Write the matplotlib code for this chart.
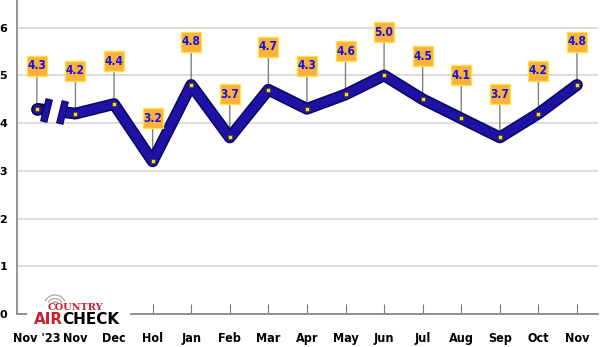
import numpy as np
import matplotlib.pyplot as plt
import matplotlib.patheffects as pe
from matplotlib.path import Path
from matplotlib.transforms import Affine2D, offset_copy
from matplotlib.patches import Arc, Rectangle

# dati del grafico
mesi = ["Nov '23", "Nov", "Dec", "Hol", "Jan", "Feb", "Mar", "Apr",
        "May", "Jun", "Jul", "Aug", "Sep", "Oct", "Nov"]
valori = [4.3, 4.2, 4.4, 3.2, 4.8, 3.7, 4.7, 4.3, 4.6, 5.0, 4.5, 4.1, 3.7, 4.2, 4.8]
ytick = [0, 1, 2, 3, 4, 5, 6]

x = np.arange(len(mesi))
blu = '#1f11a3'
blu_scuro = '#0b0560'

fig = plt.figure(figsize=(6.0, 3.47), dpi=100)
ax = fig.add_axes([0.028, 0.095, 0.969, 0.905])
ax.set_xlim(-0.52, len(mesi) - 0.45)
ax.set_ylim(0, 6.58)

# griglia
ax.set_yticks(ytick)
ax.yaxis.grid(True, color='#d9d9d9', lw=1.3)
ax.set_axisbelow(True)
for s in ['top', 'right']:
    ax.spines[s].set_visible(False)
for s in ['left', 'bottom']:
    ax.spines[s].set_color('#8a8a8a')
    ax.spines[s].set_linewidth(1.3)

ax.set_xticks(x)
ax.set_xticklabels(mesi, fontsize=9, fontweight='bold', fontstretch='condensed')
ax.set_yticklabels([str(t) for t in ytick], fontsize=8, fontweight='bold')
ax.tick_params(axis='x', direction='in', length=7, color='#777777', pad=13)
ax.tick_params(axis='y', length=0, pad=7)

ombra = [pe.Stroke(linewidth=8.5, foreground=blu_scuro), pe.Normal()]

# linea principale (da Nov in poi)
ax.plot(x[1:], valori[1:], color=blu, lw=6.3, solid_joinstyle='round',
        solid_capstyle='round', zorder=3, path_effects=ombra)

# primo pezzo spezzato (Nov '23)
xa = 0.23
ya = valori[0] + (valori[1] - valori[0]) * xa
ax.plot([x[0], xa], [valori[0], ya], color=blu, lw=6.3, solid_capstyle='butt',
        zorder=3, path_effects=ombra)
ax.plot([x[0]], [valori[0]], 'o', ms=8, color=blu, mec=blu_scuro, mew=1.2, zorder=3)
xb = 0.65
yb = valori[0] + (valori[1] - valori[0]) * xb
ax.plot([xb, x[1]], [yb, valori[1]], color=blu, lw=6.3, solid_capstyle='butt',
        zorder=3, path_effects=ombra)

# barrette della spezzatura
barra = Path([(-0.28, -1), (0.28, -1), (0.28, 1), (-0.28, 1), (-0.28, -1)],
             [Path.MOVETO, Path.LINETO, Path.LINETO, Path.LINETO, Path.CLOSEPOLY])
barra = barra.transformed(Affine2D().rotate_deg(-14))
ax.plot([xa, xb], [ya, yb], ls='none', marker=barra, ms=17, color=blu,
        mec=blu_scuro, mew=0.8, zorder=4)

# punti gialli
ax.plot(x, valori, 's', ms=3.2, color='#f5e21a', mec='#3a2a00', mew=0.4, zorder=5)

# etichette: asta, riquadro arancione, testo blu
su = offset_copy(ax.transData, fig=fig, x=0, y=43, units='dots')
for xi, v in zip(x, valori):
    ax.annotate('', (xi, v), xytext=(0, 43), textcoords='offset pixels',
                zorder=2, arrowprops=dict(arrowstyle='-', color='#808080', lw=1,
                                          shrinkA=0, shrinkB=0))
ax.plot(x, valori, 's', ms=14.5, color='#fbb13c', mec='#ffe24a', mew=1,
        transform=su, zorder=6, clip_on=False)
for xi, v in zip(x, valori):
    ax.text(xi, v, f'{v:.1f}', transform=su, ha='center', va='center',
            fontsize=8.6, fontweight='bold', fontstretch='condensed',
            color='#1414e0', zorder=7)

# logo Country Aircheck
fig.patches.append(Rectangle((27 / 600, 1 - 327 / 347), 103 / 600, 34 / 347,
                             transform=fig.transFigure, fc='white', ec='none', zorder=10))
fig.text(75 / 600, 1 - 308 / 347, 'COUNTRY', color='#c8202a', fontsize=7,
         fontweight='bold', family='DejaVu Serif', ha='center', va='center', zorder=11)
fig.text(34 / 600, 1 - 319 / 347, 'AIR', color='#c8202a', fontsize=11,
         fontweight='bold', ha='left', va='center', zorder=11)
fig.text(62 / 600, 1 - 319 / 347, 'CHECK', color='black', fontsize=11,
         fontweight='bold', ha='left', va='center', zorder=11)
for r in [4, 7.5, 11]:
    fig.patches.append(Arc((55 / 600, 1 - 306 / 347), 2 * r / 600, 2 * r / 347,
                           theta1=40, theta2=140, transform=fig.transFigure,
                           color='#b0b0b0', lw=1, zorder=11))

fig.savefig('out.png', dpi=100)
